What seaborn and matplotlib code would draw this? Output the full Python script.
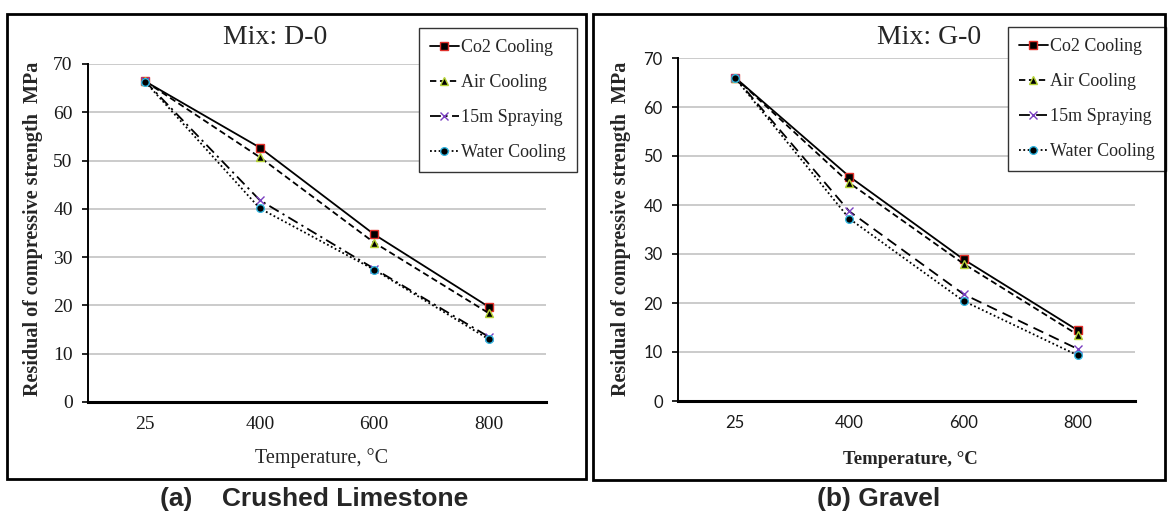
import matplotlib
matplotlib.use("Agg")
import matplotlib.pyplot as plt
import seaborn as sns
from matplotlib.patches import Rectangle

# Data
temps = ['25', '400', '600', '800']
series_names = ['Co2 Cooling', 'Air Cooling', '15m Spraying', 'Water Cooling']

d0_co2 = [66.4, 52.7, 34.7, 19.7]
d0_air = [66.4, 50.7, 33.0, 18.4]
d0_spray = [66.4, 41.8, 27.6, 13.5]
d0_water = [66.3, 40.1, 27.4, 13.0]

g0_co2 = [66.0, 45.8, 28.9, 14.4]
g0_air = [66.0, 44.5, 28.0, 13.5]
g0_spray = [66.0, 38.7, 21.8, 10.6]
g0_water = [65.9, 37.2, 20.4, 9.3]

sns.set_style("white")
plt.rcParams['font.family'] = ['Liberation Serif', 'DejaVu Serif']

W, H = 1169, 512
fig = plt.figure(figsize=(W / 100, H / 100), dpi=100)

# line / marker styles per series
styles = [
    dict(linestyle='-', marker='s', mfc='black', mec='#e0302a'),
    dict(linestyle=(0, (3.5, 2)), marker='^', mfc='black', mec='#b5d334'),
    dict(linestyle=(0, (6, 2.5, 1.2, 2.5)), marker='x', mfc='#7a3fc0', mec='#7a3fc0'),
    dict(linestyle=(0, (1, 1.4)), marker='o', mfc='black', mec='#2fb5e0'),
]
styles_b = [dict(s) for s in styles]
styles_b[2]['linestyle'] = (0, (6, 3.5))


def px(x0, y0, x1, y1):
    return [x0 / W, 1 - y1 / H, (x1 - x0) / W, (y1 - y0) / H]


def panel(rect, data, st, tick_font, tick_size, legend_box):
    ax = fig.add_axes(rect)
    for name, vals, s in zip(series_names, data, st):
        sns.lineplot(x=temps, y=vals, ax=ax, sort=False, color='black',
                     linewidth=1.3, label=name, markersize=5.5,
                     markeredgewidth=1.0, **s)
    ax.set_xlim(-0.5, 3.5)
    ax.set_ylim(0, 70)
    ax.set_yticks(range(0, 71, 10))
    ax.yaxis.grid(True, color='#bdbdbd', linewidth=1.1)
    ax.xaxis.grid(False)
    for side in ['top', 'right']:
        ax.spines[side].set_visible(False)
    ax.spines['left'].set_color('black')
    ax.spines['left'].set_linewidth(1.4)
    ax.spines['bottom'].set_color('black')
    ax.spines['bottom'].set_linewidth(2.2)
    ax.tick_params(axis='x', length=0, pad=10, labelsize=tick_size)
    ax.tick_params(axis='y', left=True, length=4, width=1.2, color='black',
                   pad=7, labelsize=tick_size)
    for lab in ax.get_xticklabels() + ax.get_yticklabels():
        lab.set_fontfamily(tick_font)
        lab.set_color('#1a1a1a')
    ax.set_xlabel('')
    ax.set_ylabel('')
    x0, y0, x1, y1 = legend_box
    leg = ax.legend(loc='upper right', bbox_to_anchor=(x1 / W, 1 - y0 / H),
                    bbox_transform=fig.transFigure, borderaxespad=0,
                    fontsize=13, labelspacing=1.0, handlelength=1.6,
                    handletextpad=0.15, borderpad=0.6, fancybox=False,
                    framealpha=1, edgecolor='#333333')
    leg.get_frame().set_linewidth(1.0)
    return ax


ax1 = panel(px(88, 64, 546, 402), [d0_co2, d0_air, d0_spray, d0_water],
            styles, ['Liberation Serif'], 14, (429, 28, 577, 181))
ax2 = panel(px(678, 58, 1135, 401), [g0_co2, g0_air, g0_spray, g0_water],
            styles_b, ['Lato'], 12, (1012, 27, 1166, 183))

# outer frames
fig.add_artist(Rectangle((7 / W, 1 - 479 / H), 579 / W, 465 / H,
                         transform=fig.transFigure, fill=False,
                         edgecolor='black', linewidth=2))
fig.add_artist(Rectangle((593 / W, 1 - 480 / H), 572 / W, 466 / H,
                         transform=fig.transFigure, fill=False,
                         edgecolor='black', linewidth=2))

# titles
fig.text(275 / W, 1 - 38 / H, 'Mix: D-0', ha='center', va='center', fontsize=20)
fig.text(929 / W, 1 - 38 / H, 'Mix: G-0', ha='center', va='center', fontsize=20)

# axis labels
ylab = 'Residual of compressive strength  MPa'
fig.text(33 / W, 1 - 229 / H, ylab, rotation=90, ha='center', va='center',
         fontsize=14.5, fontweight='bold')
fig.text(621 / W, 1 - 229 / H, ylab, rotation=90, ha='center', va='center',
         fontsize=14.5, fontweight='bold')
fig.text(322 / W, 1 - 458 / H, 'Temperature, °C', ha='center', va='center',
         fontsize=14.5)
fig.text(910 / W, 1 - 460 / H, 'Temperature, °C', ha='center', va='center',
         fontsize=13.5, fontweight='bold')

# captions
fig.text(314 / W, 1 - 499 / H, '(a)    Crushed Limestone', ha='center', va='center',
         fontsize=19, fontweight='bold', family=['Liberation Sans'])
fig.text(879 / W, 1 - 499 / H, '(b) Gravel', ha='center', va='center',
         fontsize=19, fontweight='bold', family=['Liberation Sans'])

fig.savefig('out.png', dpi=100, facecolor='white')
